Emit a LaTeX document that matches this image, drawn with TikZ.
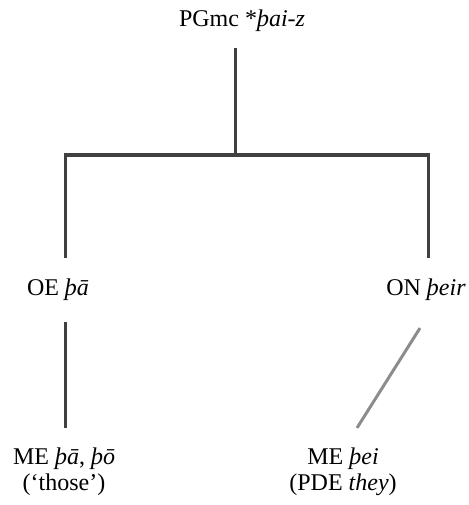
\documentclass[tikz,border=0pt]{standalone}
\usepackage{fontspec}
\setmainfont{Liberation Serif}
\usetikzlibrary{positioning,calc}

\begin{document}
\begin{tikzpicture}[x=1pt,y=-1pt,
  word/.style={font=\fontsize{24}{26}\selectfont, align=center, inner sep=0pt},
  branch/.style={line width=3pt, draw=black!75},
  loan/.style={line width=3pt, draw=black!45}]
\useasboundingbox (0,0) rectangle (468,505);
% the forms
\node[word, anchor=base] (pgmc) at (242,27) {PGmc *\textit{þai-z}};
\node[word, anchor=base] (oe) at (58,295) {OE \textit{þā}};
\node[word, anchor=base] (on) at (426,295) {ON \textit{þeir}};
\node[word] (mepa) at (64,472) {ME \textit{þā}, \textit{þō}\\(‘those’)};
\node[word] (mepei) at (343,472) {ME \textit{þei}\\(PDE \textit{they})};
% the split
\coordinate (split) at (235,155);
\coordinate (left) at (65,155);
\coordinate (right) at (428,155);
\draw[branch, shorten <=16pt] (pgmc.south -| split) -- (split);
\draw[branch, shorten <=20pt, shorten >=20pt] (oe.north -| left) -- (left) -- (right) -- (on.north -| right);
% into ME
\draw[branch, shorten <=22pt, shorten >=20pt] (oe.south -| left) -- (mepa.north -| left);
\draw[loan, shorten <=32.8pt, shorten >=23.6pt] (on.south -| 437.5,0) -- (mepei.north -| 344.4,0);
\end{tikzpicture}
\end{document}
